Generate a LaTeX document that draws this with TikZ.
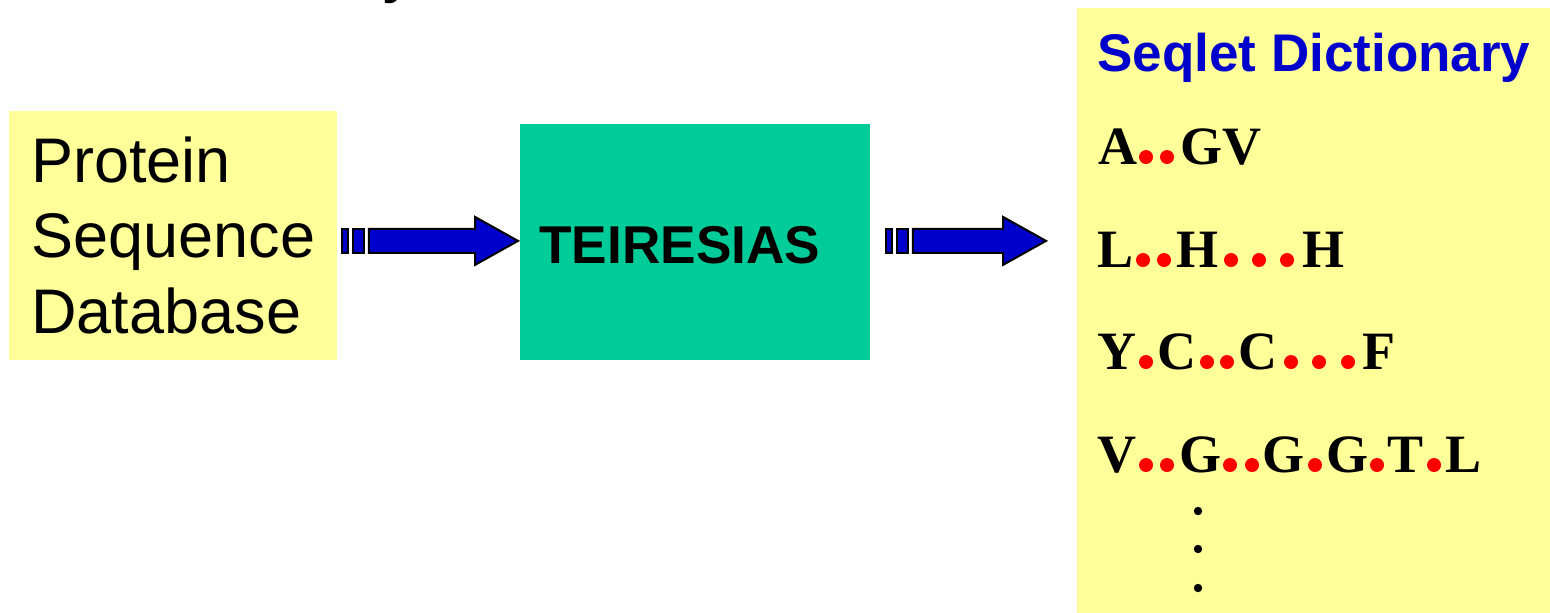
\documentclass[tikz,border=0pt]{standalone}
\usepackage{fontspec}
\setmainfont{Liberation Serif}
\setsansfont{Liberation Sans}
\usetikzlibrary{calc}

\definecolor{padyellow}{HTML}{FFFF99}
\definecolor{tealgreen}{HTML}{00CC99}
\definecolor{arrowblue}{HTML}{0000CC}
\definecolor{dotred}{HTML}{FF0000}

\tikzset{
  x=0.5pt, y=-0.5pt,
  panel/.style={rectangle, inner sep=0pt, anchor=north west},
  bodytext/.style={inner sep=0pt, anchor=base west, font=\sffamily\fontsize{31.5}{31.5}\selectfont},
  enginetext/.style={inner sep=0pt, anchor=base west, font=\sffamily\bfseries\fontsize{26.6}{26.6}\selectfont},
  titletext/.style={inner sep=0pt, anchor=base west, text=arrowblue, font=\sffamily\bfseries\fontsize{26.5}{26.5}\selectfont},
  residue/.style={inner sep=0pt, anchor=base west, font=\rmfamily\bfseries\fontsize{27}{27}\selectfont},
  arrowpart/.style={fill=arrowblue, draw=black, line width=1pt, line join=miter},
}

% striped block arrow: #1 = tail coordinate (left of first stripe), #2 = tip coordinate
\newcommand\blockarrow[2]{%
  \draw[arrowpart] ($(#1)+(0,-12)$) rectangle ($(#1)+(6,12)$);
  \draw[arrowpart] ($(#1)+(11,-12)$) rectangle ($(#1)+(22,12)$);
  \draw[arrowpart] ($(#1)+(27,-12)$) -- ($(#2)+(-43,-12)$) -- ($(#2)+(-43,-24)$)
     -- (#2) -- ($(#2)+(-43,24)$) -- ($(#2)+(-43,12)$) -- ($(#1)+(27,12)$) -- cycle;
}

\begin{document}
\begin{tikzpicture}
\useasboundingbox (0,0) rectangle (1550,612);

% heading fragment at the top edge
\node[inner sep=0pt, anchor=base west, font=\sffamily\bfseries\fontsize{27}{27}\selectfont] (headfrag) at (382,-8) {y};

% input database
\node[panel, fill=padyellow, minimum width=164pt, minimum height=124.5pt] (dbbox) at (9,111) {};
\node[bodytext] (db1) at (31,182) {Protein};
\node[bodytext] (db2) at (31,257.5) {Sequence};
\node[bodytext] (db3) at (31,333) {Database};

% discovery engine
\node[panel, fill=tealgreen, minimum width=175pt, minimum height=118pt] (engine) at (520,124) {};
\node[enginetext] (enginelabel) at (539,263) {TEIRESIAS};

% output dictionary
\node[panel, fill=padyellow, minimum width=236.5pt, minimum height=305pt] (dict) at (1077,8) {};
\node[titletext] (dicttitle) at (1097,71) {Seqlet Dictionary};

% arrows between the stages
\coordinate (a1s) at ($(dbbox.east)+(4,5)$);
\coordinate (a1t) at ($(engine.west)+(-2,-1.5)$);
\coordinate (a2s) at ($(engine.east)+(15,-1.5)$);
\coordinate (a2t) at ($(dict.west |- a2s)+(-31,0)$);
\blockarrow{a1s}{a1t}
\blockarrow{a2s}{a2t}

% seqlet patterns: residues
\foreach \px/\py/\aa [count=\i] in {
   1098/164/A, 1180/164/GV,
   1097/267/L, 1176/267/H, 1302/267/H,
   1097/369/Y, 1157/369/C, 1238/369/C, 1362/369/F,
   1097/472/V, 1179/472/G, 1262/472/G, 1326/472/G, 1387/472/T, 1445/472/L}
  \node[residue] (res\i) at (\px,\py) {\aa};

% seqlet patterns: wildcard positions
\foreach \px/\py in {
   1146/157, 1167/157,
   1143/260, 1164/260, 1231/260, 1259/260, 1287/260,
   1146/362, 1207/362, 1227/362, 1291/362, 1319/362, 1348/362,
   1146/465, 1167/465, 1230/465, 1252/465, 1315/465, 1377/465, 1434/465}
  \fill[dotred] (\px,\py) circle[radius=3.5pt];

% continuation dots
\foreach \py in {511,549,588}
  \fill[black] (1198,\py) circle[radius=2.1pt];
\end{tikzpicture}
\end{document}
